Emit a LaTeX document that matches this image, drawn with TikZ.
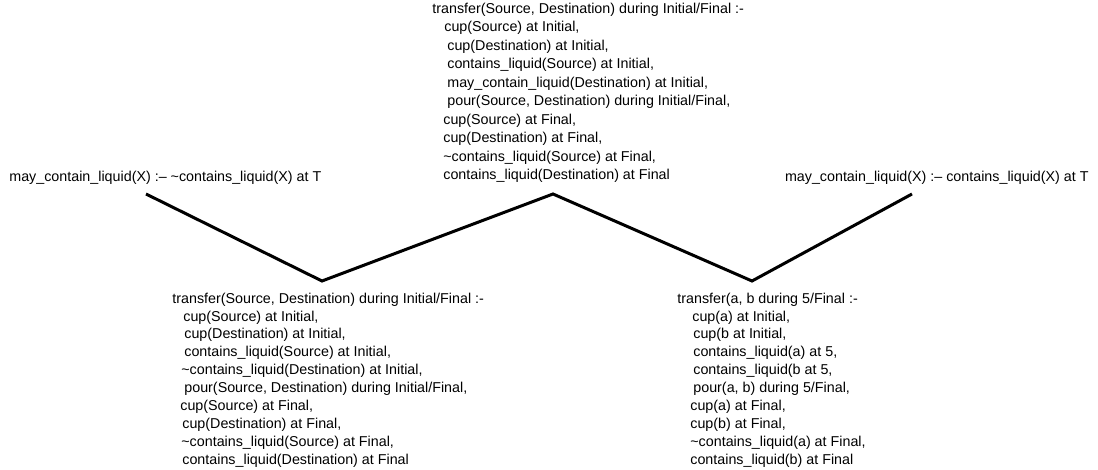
\documentclass[tikz,border=0pt]{standalone}
\usepackage{fontspec}
\setmainfont{Liberation Sans}

\tikzset{every picture/.style={line width=0.75pt}}
\tikzset{
  clause/.style={anchor=north west,inner sep=0pt,align=left,font=\fontsize{14.3}{18.5}\selectfont},
  fact/.style={inner sep=0pt,font=\fontsize{14.3}{16}\selectfont},
  branch/.style={line width=3pt,line join=miter,line cap=butt},
}
\newcommand{\ind}[1]{\hspace*{#1pt}}
\newcommand{\tl}{\textasciitilde}

\begin{document}
\begin{tikzpicture}[x=1pt,y=1pt,yscale=-1,xscale=1]
\useasboundingbox (0,0) rectangle (1098,470);

%Zigzag vertices
\coordinate (vL) at (146,194);
\coordinate (vB1) at (322,281);
\coordinate (vT) at (553,194);
\coordinate (vB2) at (752,281);
\coordinate (vR) at (912,194);

%Zigzag
\draw [branch] (vL) -- (vB1) -- (vT) -- (vB2) -- (vR);

% Text Node
\node (mayneg) [fact,anchor=base west] at (9,182) {may\_contain\_liquid(X) :– \tl contains\_liquid(X) at T};
% Text Node
\node (maypos) [fact,anchor=base east] at (1089,182) {may\_contain\_liquid(X) :– contains\_liquid(X) at T};

% Text Node
\node (ruletop) [clause] at (432,2.4) {transfer(Source, Destination) during Initial/Final :-\\
\ind{12}cup(Source) at Initial,\\
\ind{15}cup(Destination) at Initial,\\
\ind{15}contains\_liquid(Source) at Initial,\\
\ind{15}may\_contain\_liquid(Destination) at Initial,\\
\ind{15}pour(Source, Destination) during Initial/Final,\\
\ind{11}cup(Source) at Final,\\
\ind{11}cup(Destination) at Final,\\
\ind{11}\tl contains\_liquid(Source) at Final,\\
\ind{11}contains\_liquid(Destination) at Final};

% Text Node
\node (ruleleft) [clause,font=\fontsize{14.3}{17.9}\selectfont] at (172,292.4) {transfer(Source, Destination) during Initial/Final :-\\
\ind{11}cup(Source) at Initial,\\
\ind{12}cup(Destination) at Initial,\\
\ind{12}contains\_liquid(Source) at Initial,\\
\ind{9}\tl contains\_liquid(Destination) at Initial,\\
\ind{12}pour(Source, Destination) during Initial/Final,\\
\ind{8}cup(Source) at Final,\\
\ind{10}cup(Destination) at Final,\\
\ind{9}\tl contains\_liquid(Source) at Final,\\
\ind{10}contains\_liquid(Destination) at Final};

% Text Node
\node (ruleright) [clause,font=\fontsize{14.3}{17.9}\selectfont] at (677,292.4) {transfer(a, b during 5/Final :-\\
\ind{15}cup(a) at Initial,\\
\ind{16}cup(b at Initial,\\
\ind{16}contains\_liquid(a) at 5,\\
\ind{16}contains\_liquid(b at 5,\\
\ind{16}pour(a, b) during 5/Final,\\
\ind{13}cup(a) at Final,\\
\ind{13}cup(b) at Final,\\
\ind{13}\tl contains\_liquid(a) at Final,\\
\ind{13}contains\_liquid(b) at Final};

\end{tikzpicture}
\end{document}
